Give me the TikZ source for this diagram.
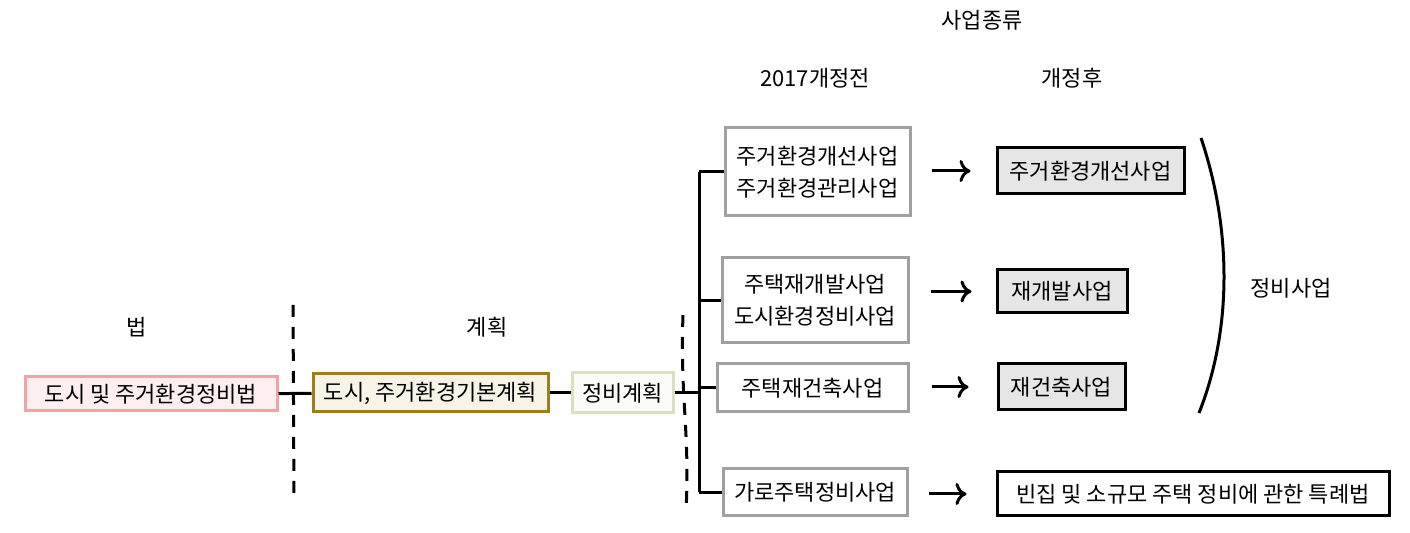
\documentclass[tikz,border=0pt]{standalone}
\usepackage{fontspec}
\setmainfont{Noto Sans CJK KR}
\usetikzlibrary{arrows.meta}

\definecolor{lawline}{HTML}{F2A3A3}
\definecolor{lawfill}{HTML}{FDEFEF}
\definecolor{planline}{HTML}{9C7E1E}
\definecolor{planfill}{HTML}{F7F3E6}
\definecolor{jbline}{HTML}{D5E3C2}
\definecolor{jbfill}{HTML}{FBFCF7}
\definecolor{oldline}{HTML}{A0A0A0}
\definecolor{newfill}{HTML}{E6E6E6}

\begin{document}
\begin{tikzpicture}[
        x=0.5pt, y=-0.5pt,
        every node/.style={
            inner sep=0pt,
            align=center,
            font=\fontsize{11}{16}\selectfont
        },
        oldbox/.style={draw=oldline, line width=1.5pt, fill=white},
        newbox/.style={draw=black, line width=1.5pt, fill=newfill},
        conn/.style={line width=1.5pt},
        arr/.style={line width=1.5pt, -{To[length=5.5pt,width=11pt]}},
        divider/.style={line width=1.5pt, dash pattern=on 6pt off 5pt}
    ]
    \useasboundingbox (0,0) rectangle (1410,533);

    % 제목
    \node (kind) at (982,20) {사업종류};
    \node (before) at (815,78) {2017개정전};
    \node (after) at (1072,78) {개정후};
    \node (lawlbl) at (137,327) {법};
    \node (planlbl) at (487,327) {계획};

    % 법, 계획
    \node[draw=lawline, fill=lawfill, line width=1.5pt,
          minimum width=126pt, minimum height=17pt] (law) at (151,394) {도시 및 주거환경정비법};
    \node[draw=planline, fill=planfill, line width=1.5pt,
          minimum width=117.5pt, minimum height=19pt] (basic) at (430.5,393) {도시, 주거환경기본계획};
    \node[draw=jbline, fill=jbfill, line width=1.5pt,
          minimum width=50.5pt, minimum height=20pt] (jb) at (622.5,393) {정비계획};

    % 개정전
    \node[oldbox, minimum width=92.5pt, minimum height=44pt] (b1) at (817.5,172) {주거환경개선사업\\주거환경관리사업};
    \node[oldbox, minimum width=93pt, minimum height=42.5pt] (b2) at (815,300.5) {주택재개발사업\\도시환경정비사업};
    \node[oldbox, minimum width=95.5pt, minimum height=24pt] (b3) at (812.5,388) {주택재건축사업};
    \node[oldbox, minimum width=92pt, minimum height=23.5pt] (b4) at (815,492.5) {가로주택정비사업};

    % 개정후
    \node[newbox, minimum width=93.5pt, minimum height=23pt] (n1) at (1090.5,171) {주거환경개선사업};
    \node[newbox, minimum width=65pt, minimum height=21.5pt] (n2) at (1062,291.5) {재개발사업};
    \node[newbox, minimum width=63.5pt, minimum height=23pt] (n3) at (1061.5,387) {재건축사업};
    \node[draw=black, fill=white, line width=1.5pt,
          minimum width=196pt, minimum height=22pt] (n4) at (1193,494) {빈집 및 소규모 주택 정비에 관한 특례법};
    \node (jbsa) at (1291,288) {정비사업};

    % 연결선
    \coordinate (trunk) at (699,0);
    \draw[conn] (law) -- (basic);
    \draw[conn] (basic) -- (jb);
    \draw[conn] (jb.east) -- (jb.east -| trunk);
    \draw[conn] (b1.west -| trunk) -- (b4.west -| trunk);
    \draw[conn] (b1.west -| trunk) -- (b1.west);
    \draw[conn] (b2.west -| trunk) -- (b2.west);
    \draw[conn] (b3.west -| trunk) -- (b3.west);
    \draw[conn] (b4.west -| trunk) -- (b4.west);

    % 화살표
    \draw[arr, shorten <=10pt, shorten >=12.5pt] (n1.west -| b1.east) -- (n1.west);
    \draw[arr, shorten <=10.5pt, shorten >=12pt] (n2.west -| b2.east) -- (n2.west);
    \draw[arr, shorten <=11pt, shorten >=14pt] (n3.west -| b3.east) -- (n3.west);
    \draw[arr, shorten <=10pt, shorten >=14.5pt] (n4.west -| b4.east) -- (n4.west);

    % 점선, 괄호
    \draw[divider] (293,305) -- (294,497);
    \draw[divider] (683,315) .. controls (680,400) and (690,430) .. (686,512);
    \draw[conn] (1201,138) .. controls (1232,230) and (1232,330) .. (1199,413);

    \end{tikzpicture}
\end{document}
